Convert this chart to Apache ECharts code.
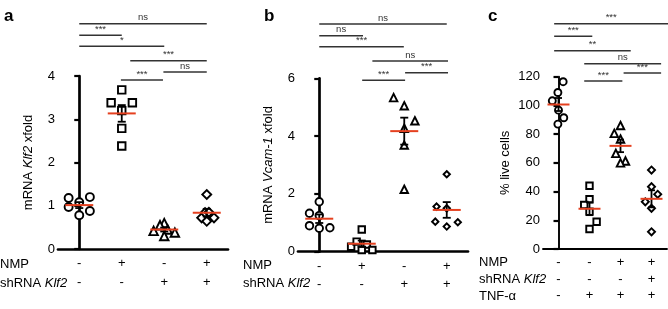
<!DOCTYPE html>
<html>
<head>
<meta charset="utf-8">
<script src="https://cdn.jsdelivr.net/npm/echarts@6/dist/echarts.min.js"></script>
<style>
html, body { margin: 0; padding: 0; background: #fff; }
#main { width: 668px; height: 309px; }
</style>
</head>
<body>
<div id="main"></div>
<script>
// ---- data ----
// panel a: mRNA Klf2 xfold, one array per group (circle, square, triangle, diamond)
var klf2Values = [
    [1.18, 1.08, 1.20, 0.97, 0.78, 0.88],
    [3.68, 3.38, 3.38, 3.20, 2.79, 2.38],
    [0.60, 0.55, 0.42, 0.45, 0.30, 0.38],
    [1.26, 0.72, 0.64, 0.72, 0.84, 0.85]
];
// horizontal scatter of the points, in category units
var klf2Jitter = [
    [-0.25, 0, 0.25, -0.25, 0, 0.25],
    [0, -0.25, 0.25, 0, 0, 0],
    [0, -0.1, -0.25, 0.08, 0, 0.25],
    [0, -0.12, 0, 0.17, -0.04, 0.05]
];
// panel b: mRNA Vcam-1 xfold
var vcamValues = [
    [1.33, 1.73, 1.25, 0.90, 0.81, 0.83],
    [0.77, 0.17, 0.35, 0.25, 0.06, 0.06],
    [5.33, 5.05, 4.53, 4.27, 3.69, 2.16],
    [2.68, 1.56, 1.50, 1.04, 0.87, 1.02]
];
var vcamJitter = [
    [-0.23, 0, 0, -0.23, 0, 0.25],
    [0, -0.25, -0.12, 0.12, 0, 0.25],
    [-0.25, 0, 0.25, 0, 0, 0],
    [0, -0.24, 0, -0.27, 0, 0.26]
];
// panel c: % live cells
var liveValues = [
    [116.5, 109, 103.2, 96.7, 91.4, 87],
    [44.1, 34.6, 30.6, 26, 19, 13.9],
    [86, 80.5, 76.6, 66.6, 61.3, 60],
    [55, 43.4, 38.1, 32.9, 28.3, 12]
];
var liveJitter = [
    [0.15, -0.02, -0.2, 0, 0.17, -0.02],
    [0, 0, -0.17, 0, 0.23, 0],
    [0, -0.2, 0, -0.15, 0.16, 0],
    [0, 0, 0.2, -0.2, 0, 0]
];

// treatment rows under the axes
var nmpAB = ['-', '+', '-', '+'];
var shAB = ['-', '-', '+', '+'];
var nmpC = ['-', '-', '+', '+'];
var shC = ['-', '-', '-', '+'];
var tnfC = ['-', '+', '+', '+'];

// significance brackets: [from group, to group, label]
var bracketsA = [[0, 3, 'ns'], [0, 1, '***'], [0, 2, '*'], [1.2, 3, '***'], [1.98, 3, 'ns'], [0.98, 1.97, '***']];
var bracketsB = [[0, 3, 'ns'], [0, 1.03, 'ns'], [0, 1.99, '***'], [1.25, 3.03, 'ns'], [2.02, 3.03, '***'], [1.01, 2.02, '***']];
var bracketsC = [[-0.14, 3.54, '***'], [-0.14, 1.09, '***'], [-0.14, 2.33, '**'], [0.83, 3.31, 'ns'], [2.1, 3.31, '***'], [0.83, 2.06, '***']];

// ---- layout / style ----
var FONT = '"Liberation Sans", Arial, sans-serif';
var RED = '#e5401f';
var symbols = ['circle', 'rect', 'triangle', 'rect'];
var rotates = [0, 0, 0, 45];

var panels = [
    {
        vals: klf2Values, jit: klf2Jitter, brackets: bracketsA,
        levels: [23.7, 35.3, 46.3, 60.7, 72, 80],
        grid: { left: 58, top: 76, width: 170, height: 173 },
        yMax: 4, yInt: 1, name: ['mRNA ', 'Klf2', ' xfold'], nameGap: 23,
        rows: [nmpAB, shAB], lineH: 19, axisW: 2.7,
        sizes: [8, 7.5, 8.5, 6.3], meanW: 14, capW: 4
    },
    {
        vals: vcamValues, jit: vcamJitter, brackets: bracketsB,
        levels: [24, 35.7, 46.7, 61, 72.7, 80.3],
        grid: { left: 298, top: 78.3, width: 170, height: 173.4 },
        yMax: 6, yInt: 2, name: ['mRNA ', 'Vcam-1', ' xfold'], nameGap: 23,
        rows: [nmpAB, shAB], lineH: 18.5, axisW: 2.7,
        sizes: [7.5, 6.5, 7.5, 4.5], meanW: 14, capW: 4
    },
    {
        vals: liveValues, jit: liveJitter, brackets: bracketsC,
        levels: [23.7, 36.3, 50.7, 63.7, 73, 81],
        grid: { left: 543, top: 76.7, width: 124, height: 172.3 },
        yMax: 120, yInt: 20, name: ['% live cells', '', ''], nameGap: 31,
        rows: [nmpC, shC, tnfC], lineH: 16.7, axisW: 1.9,
        sizes: [7, 6.5, 7.5, 5], meanW: 11, capW: 3.5
    }
];

function mean(a) {
    var s = 0;
    for (var i = 0; i < a.length; i++) s += a[i];
    return s / a.length;
}
function sem(a) {
    var m = mean(a), s = 0;
    for (var i = 0; i < a.length; i++) s += (a[i] - m) * (a[i] - m);
    return Math.sqrt(s / (a.length - 1)) / Math.sqrt(a.length);
}

var grids = [], xAxes = [], yAxes = [], series = [];

panels.forEach(function (p, k) {
    grids.push(p.grid);
    var cats = [];
    for (var c = 0; c < 4; c++) {
        cats.push(p.rows.map(function (r) { return r[c]; }).join('\n'));
    }
    xAxes.push({
        type: 'category', gridIndex: k, data: cats,
        axisLine: { lineStyle: { color: '#000', width: p.axisW } },
        axisTick: { alignWithLabel: true, length: 5, lineStyle: { width: 2.2 } },
        axisLabel: { interval: 0, color: '#000', fontSize: 13, fontFamily: FONT, lineHeight: p.lineH, margin: 5 }
    });
    xAxes.push({ type: 'value', gridIndex: k, min: -0.5, max: 3.5, show: false });
    yAxes.push({
        type: 'value', gridIndex: k, min: 0, max: p.yMax, interval: p.yInt,
        splitLine: { show: false },
        axisLine: { show: true, lineStyle: { color: '#000', width: p.axisW } },
        axisTick: { show: true, length: 5, lineStyle: { width: 2.2 } },
        axisLabel: { color: '#000', fontSize: 13, fontFamily: FONT, margin: 3 },
        name: '{t|' + p.name[0] + '}' + (p.name[1] ? '{i|' + p.name[1] + '}{t|' + p.name[2] + '}' : ''),
        nameLocation: 'middle', nameGap: p.nameGap,
        nameTextStyle: {
            rich: {
                t: { fontSize: 13, fontFamily: FONT, color: '#000' },
                i: { fontSize: 13, fontFamily: FONT, color: '#000', fontStyle: 'italic' }
            }
        }
    });

    // points
    p.vals.forEach(function (g, gi) {
        series.push({
            type: 'scatter', xAxisIndex: 2 * k + 1, yAxisIndex: k,
            symbol: symbols[gi], symbolRotate: rotates[gi], symbolSize: p.sizes[gi],
            itemStyle: { color: '#fff', borderColor: '#000', borderWidth: 1.9, opacity: 1 },
            data: g.map(function (v, j) { return [gi + p.jit[gi][j], v]; }),
            z: 2, silent: true
        });
    });

    // mean +- SEM
    series.push({
        type: 'custom', xAxisIndex: 2 * k + 1, yAxisIndex: k, z: 5, silent: true,
        data: p.vals.map(function (g, gi) { return [gi, mean(g), sem(g)]; }),
        encode: { x: 0, y: 1 },
        renderItem: function (params, api) {
            var x = api.value(0), m = api.value(1), s = api.value(2);
            var c = api.coord([x, m]), hi = api.coord([x, m + s]), lo = api.coord([x, m - s]);
            var blk = { stroke: '#000', lineWidth: 1.8 };
            return {
                type: 'group', children: [
                    { type: 'line', shape: { x1: c[0], y1: hi[1], x2: c[0], y2: lo[1] }, style: blk },
                    { type: 'line', shape: { x1: c[0] - p.capW, y1: hi[1], x2: c[0] + p.capW, y2: hi[1] }, style: blk },
                    { type: 'line', shape: { x1: c[0] - p.capW, y1: lo[1], x2: c[0] + p.capW, y2: lo[1] }, style: blk },
                    { type: 'line', shape: { x1: c[0] - p.meanW, y1: c[1], x2: c[0] + p.meanW, y2: c[1] }, style: { stroke: RED, lineWidth: 2 } }
                ]
            };
        }
    });

    // significance brackets
    series.push({
        type: 'custom', xAxisIndex: 2 * k + 1, yAxisIndex: k, z: 6, silent: true, clip: false,
        data: p.brackets.map(function (b) { return [b[0], 0]; }),
        encode: { x: 0, y: 1 },
        renderItem: function (params, api) {
            var b = p.brackets[params.dataIndex];
            var x1 = api.coord([b[0], 0])[0], x2 = api.coord([b[1], 0])[0];
            var y = p.levels[params.dataIndex];
            return {
                type: 'group', children: [
                    { type: 'line', shape: { x1: x1, y1: y, x2: x2, y2: y }, style: { stroke: '#333', lineWidth: 1.4 } },
                    { type: 'text', style: { text: b[2], x: (x1 + x2) / 2, y: y - 1, align: 'center', verticalAlign: 'bottom', font: '9.5px ' + FONT, fill: '#333' } }
                ]
            };
        }
    });
});

var richRow = {
    t: { fontSize: 13, fontFamily: FONT, color: '#000' },
    i: { fontSize: 13, fontFamily: FONT, color: '#000', fontStyle: 'italic' }
};
function rowText(x, y, txt) {
    return { type: 'text', x: x, y: y, style: { text: txt, rich: richRow, verticalAlign: 'middle' } };
}
function panelLetter(x, txt) {
    return { type: 'text', x: x, y: 16, style: { text: txt, font: 'bold 17px ' + FONT, fill: '#000', verticalAlign: 'middle' } };
}

var chart = echarts.init(document.getElementById('main'));
chart.setOption({
    animation: false,
    grid: grids,
    xAxis: xAxes,
    yAxis: yAxes,
    series: series,
    graphic: [
        panelLetter(4, 'a'), panelLetter(264, 'b'), panelLetter(488, 'c'),
        rowText(0, 264.3, '{t|NMP}'), rowText(0, 283.3, '{t|shRNA }{i|Klf2}'),
        rowText(243, 265, '{t|NMP}'), rowText(243, 283.3, '{t|shRNA }{i|Klf2}'),
        rowText(479, 262.7, '{t|NMP}'), rowText(479, 279.3, '{t|shRNA }{i|Klf2}'), rowText(479, 296, '{t|TNF-α}')
    ]
});
</script>
</body>
</html>
